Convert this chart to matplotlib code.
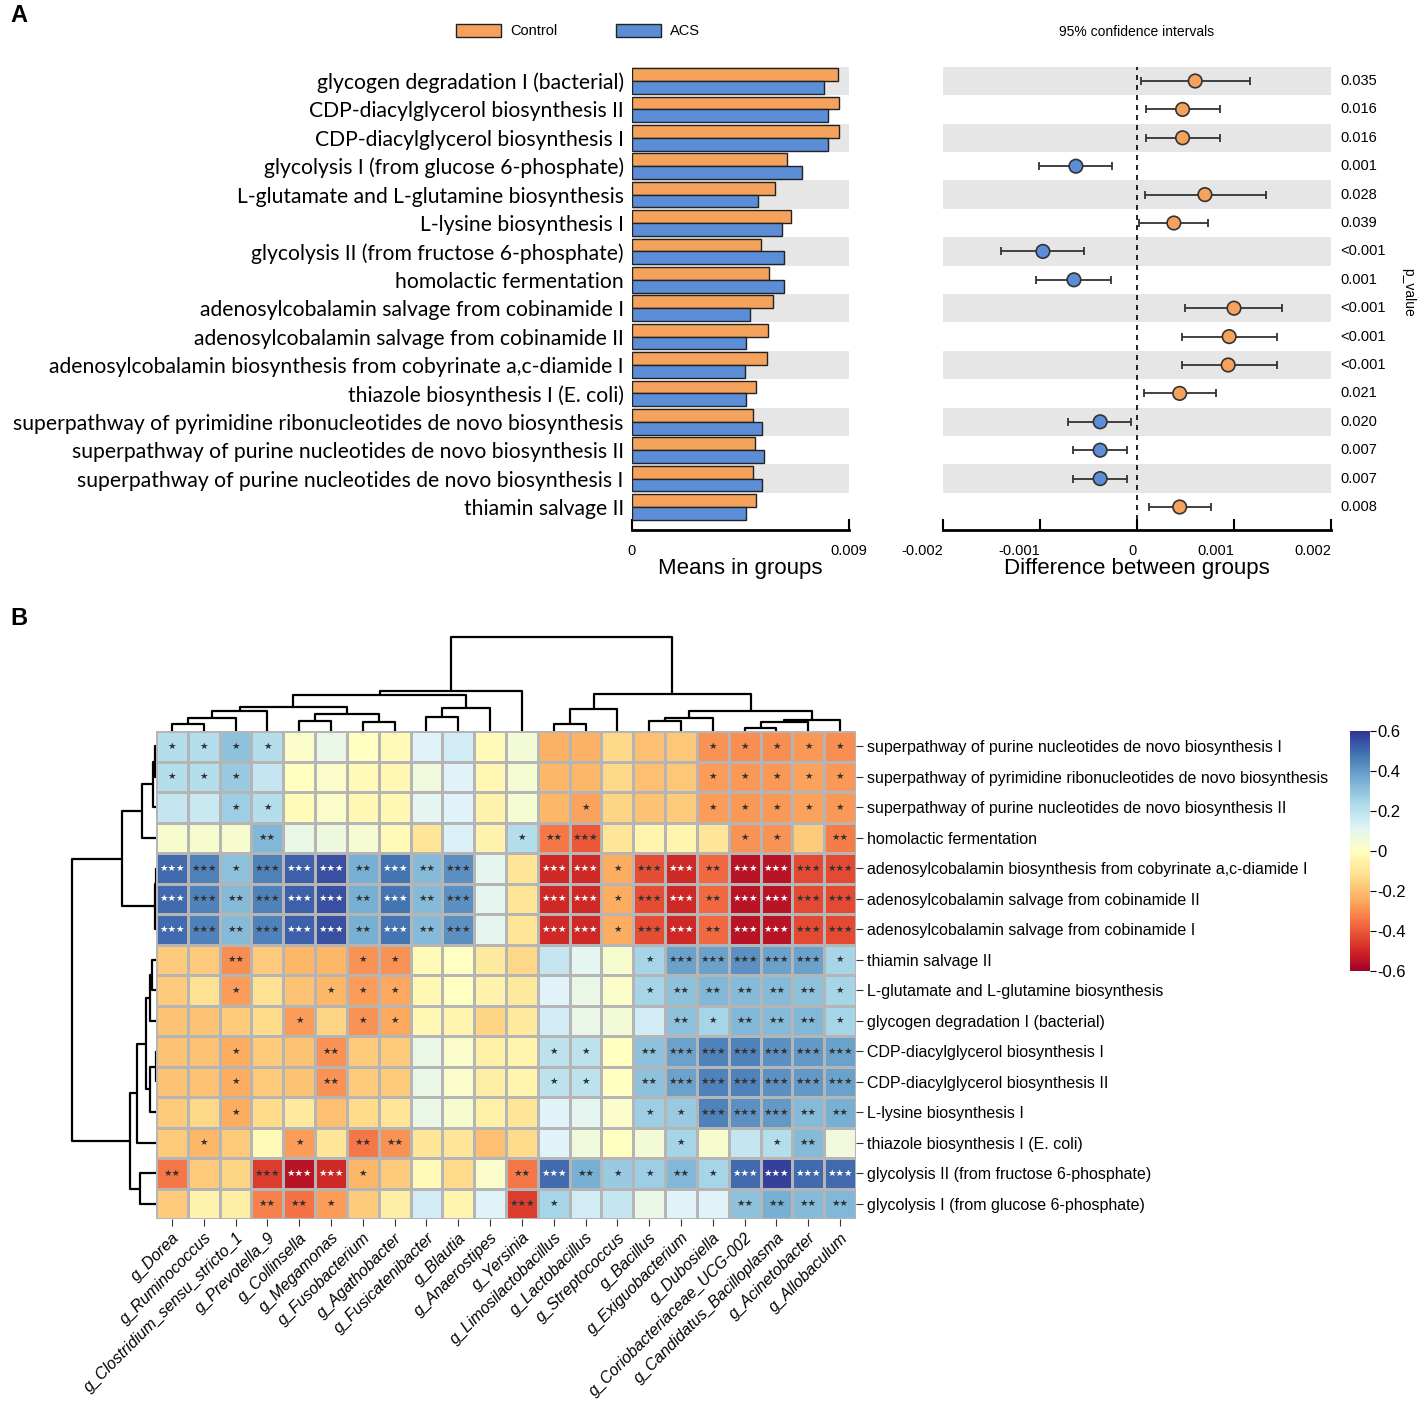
import numpy as np
import matplotlib
matplotlib.use('Agg')
import matplotlib.pyplot as plt
from matplotlib.patches import Patch
import matplotlib.transforms as mtransforms

plt.rcParams['font.family'] = ['Liberation Sans', 'DejaVu Sans']

# ---------------- panel A data ----------------
pathways = [
    'glycogen degradation I (bacterial)',
    'CDP-diacylglycerol biosynthesis II',
    'CDP-diacylglycerol biosynthesis I',
    'glycolysis I (from glucose 6-phosphate)',
    'L-glutamate and L-glutamine biosynthesis',
    'L-lysine biosynthesis I',
    'glycolysis II (from fructose 6-phosphate)',
    'homolactic fermentation',
    'adenosylcobalamin salvage from cobinamide I',
    'adenosylcobalamin salvage from cobinamide II',
    'adenosylcobalamin biosynthesis from cobyrinate a,c-diamide I',
    'thiazole biosynthesis I (E. coli)',
    'superpathway of pyrimidine ribonucleotides de novo biosynthesis',
    'superpathway of purine nucleotides de novo biosynthesis II',
    'superpathway of purine nucleotides de novo biosynthesis I',
    'thiamin salvage II',
]
control_mean = [0.00854, 0.00858, 0.00858, 0.00643, 0.00593, 0.00660, 0.00534, 0.00568,
                0.00585, 0.00566, 0.00561, 0.00515, 0.00503, 0.00511, 0.00500, 0.00515]
acs_mean = [0.00795, 0.00812, 0.00812, 0.00707, 0.00521, 0.00622, 0.00631, 0.00631,
            0.00488, 0.00471, 0.00469, 0.00473, 0.00540, 0.00549, 0.00538, 0.00473]
diff = [0.00060, 0.00047, 0.00047, -0.00063, 0.00070, 0.00038, -0.00097, -0.00065,
        0.00100, 0.00095, 0.00094, 0.00044, -0.00038, -0.00038, -0.00038, 0.00044]
ci_low = [0.00004, 0.00009, 0.00009, -0.00101, 0.00008, 0.00002, -0.00140, -0.00104,
          0.00050, 0.00046, 0.00046, 0.00007, -0.00071, -0.00066, -0.00066, 0.00012]
ci_high = [0.00116, 0.00086, 0.00086, -0.00026, 0.00133, 0.00073, -0.00055, -0.00027,
           0.00149, 0.00144, 0.00144, 0.00081, -0.00006, -0.00010, -0.00010, 0.00076]
p_labels = ['0.035', '0.016', '0.016', '0.001', '0.028', '0.039', '<0.001', '0.001',
            '<0.001', '<0.001', '<0.001', '0.021', '0.020', '0.007', '0.007', '0.008']

# ---------------- panel B data ----------------
heat_rows = [
    'superpathway of purine nucleotides de novo biosynthesis I',
    'superpathway of pyrimidine ribonucleotides de novo biosynthesis',
    'superpathway of purine nucleotides de novo biosynthesis II',
    'homolactic fermentation',
    'adenosylcobalamin biosynthesis from cobyrinate a,c-diamide I',
    'adenosylcobalamin salvage from cobinamide II',
    'adenosylcobalamin salvage from cobinamide I',
    'thiamin salvage II',
    'L-glutamate and L-glutamine biosynthesis',
    'glycogen degradation I (bacterial)',
    'CDP-diacylglycerol biosynthesis I',
    'CDP-diacylglycerol biosynthesis II',
    'L-lysine biosynthesis I',
    'thiazole biosynthesis I (E. coli)',
    'glycolysis II (from fructose 6-phosphate)',
    'glycolysis I (from glucose 6-phosphate)',
]
heat_cols = ['g_Dorea', 'g_Ruminococcus', 'g_Clostridium_sensu_stricto_1', 'g_Prevotella_9',
             'g_Collinsella', 'g_Megamonas', 'g_Fusobacterium', 'g_Agathobacter',
             'g_Fusicatenibacter', 'g_Blautia', 'g_Anaerostipes', 'g_Yersinia',
             'g_Limosilactobacillus', 'g_Lactobacillus', 'g_Streptococcus', 'g_Bacillus',
             'g_Exiguobacterium', 'g_Dubosiella', 'g_Coriobacteriaceae_UCG-002',
             'g_Candidatus_Bacilloplasma', 'g_Acinetobacter', 'g_Allobaculum']

corr = np.array([
    [0.22, 0.22, 0.30, 0.22, 0.02, 0.08, 0.00, -0.02, 0.12, 0.15, -0.02, 0.05, -0.23, -0.23, -0.14, -0.20, -0.18, -0.29, -0.30, -0.30, -0.28, -0.30],
    [0.22, 0.22, 0.28, 0.18, 0.00, 0.02, -0.02, -0.03, 0.06, 0.12, -0.03, 0.04, -0.22, -0.22, -0.14, -0.20, -0.18, -0.27, -0.28, -0.28, -0.26, -0.28],
    [0.18, 0.17, 0.27, 0.22, -0.01, 0.02, -0.03, -0.03, 0.10, 0.12, -0.05, 0.04, -0.22, -0.26, -0.15, -0.19, -0.17, -0.27, -0.28, -0.28, -0.26, -0.28],
    [0.03, 0.03, 0.03, 0.33, 0.08, 0.07, 0.04, -0.02, -0.10, 0.13, -0.05, 0.22, -0.34, -0.40, -0.10, -0.04, -0.04, -0.10, -0.29, -0.29, -0.17, -0.33],
    [0.50, 0.45, 0.30, 0.45, 0.52, 0.55, 0.35, 0.48, 0.32, 0.42, 0.10, -0.10, -0.50, -0.50, -0.24, -0.42, -0.50, -0.37, -0.55, -0.55, -0.43, -0.43],
    [0.50, 0.45, 0.32, 0.45, 0.52, 0.55, 0.35, 0.48, 0.32, 0.42, 0.10, -0.10, -0.50, -0.50, -0.24, -0.42, -0.50, -0.37, -0.55, -0.55, -0.43, -0.43],
    [0.50, 0.45, 0.32, 0.45, 0.52, 0.55, 0.35, 0.48, 0.32, 0.42, 0.10, -0.10, -0.50, -0.50, -0.24, -0.42, -0.50, -0.37, -0.55, -0.55, -0.43, -0.43],
    [-0.17, -0.17, -0.30, -0.17, -0.22, -0.22, -0.29, -0.29, -0.02, 0.00, -0.08, -0.14, 0.18, 0.10, 0.03, 0.25, 0.38, 0.38, 0.42, 0.38, 0.38, 0.25],
    [-0.17, -0.11, -0.27, -0.11, -0.19, -0.22, -0.27, -0.25, -0.03, 0.00, -0.05, -0.08, 0.12, 0.08, 0.02, 0.25, 0.30, 0.33, 0.32, 0.32, 0.30, 0.25],
    [-0.19, -0.19, -0.17, -0.13, -0.27, -0.15, -0.29, -0.25, -0.03, -0.04, -0.15, -0.08, 0.15, 0.08, 0.05, 0.15, 0.30, 0.25, 0.33, 0.32, 0.33, 0.25],
    [-0.19, -0.19, -0.24, -0.17, -0.19, -0.29, -0.17, -0.17, 0.08, 0.02, -0.06, -0.04, 0.20, 0.20, 0.00, 0.30, 0.38, 0.45, 0.45, 0.42, 0.40, 0.38],
    [-0.19, -0.19, -0.24, -0.17, -0.19, -0.29, -0.17, -0.17, 0.08, 0.02, -0.07, -0.04, 0.20, 0.20, 0.00, 0.30, 0.38, 0.45, 0.45, 0.42, 0.40, 0.38],
    [-0.17, -0.14, -0.24, -0.13, -0.08, -0.20, -0.13, -0.10, 0.08, 0.03, -0.06, -0.10, 0.12, 0.10, 0.02, 0.27, 0.28, 0.45, 0.42, 0.40, 0.32, 0.35],
    [-0.17, -0.22, -0.17, -0.02, -0.27, -0.10, -0.34, -0.29, -0.10, -0.10, -0.20, -0.13, 0.12, 0.06, 0.00, 0.05, 0.25, 0.03, 0.18, 0.22, 0.32, 0.06],
    [-0.34, -0.17, -0.15, -0.45, -0.55, -0.50, -0.22, -0.17, -0.02, -0.13, 0.02, -0.34, 0.50, 0.35, 0.28, 0.27, 0.33, 0.25, 0.50, 0.58, 0.50, 0.50],
    [-0.17, -0.05, -0.07, -0.32, -0.35, -0.27, -0.17, -0.07, 0.15, -0.04, 0.12, -0.45, 0.25, 0.15, 0.18, 0.08, 0.12, 0.12, 0.30, 0.35, 0.32, 0.33],
])

# number of significance stars per cell
star_level = np.array([
    [1, 1, 1, 1, 0, 0, 0, 0, 0, 0, 0, 0, 0, 0, 0, 0, 0, 1, 1, 1, 1, 1],
    [1, 1, 1, 0, 0, 0, 0, 0, 0, 0, 0, 0, 0, 0, 0, 0, 0, 1, 1, 1, 1, 1],
    [0, 0, 1, 1, 0, 0, 0, 0, 0, 0, 0, 0, 0, 1, 0, 0, 0, 1, 1, 1, 1, 1],
    [0, 0, 0, 2, 0, 0, 0, 0, 0, 0, 0, 1, 2, 3, 0, 0, 0, 0, 1, 1, 0, 2],
    [3, 3, 1, 3, 3, 3, 2, 3, 2, 3, 0, 0, 3, 3, 1, 3, 3, 2, 3, 3, 3, 3],
    [3, 3, 2, 3, 3, 3, 2, 3, 2, 3, 0, 0, 3, 3, 1, 3, 3, 2, 3, 3, 3, 3],
    [3, 3, 2, 3, 3, 3, 2, 3, 2, 3, 0, 0, 3, 3, 1, 3, 3, 2, 3, 3, 3, 3],
    [0, 0, 2, 0, 0, 0, 1, 1, 0, 0, 0, 0, 0, 0, 0, 1, 3, 3, 3, 3, 3, 1],
    [0, 0, 1, 0, 0, 1, 1, 1, 0, 0, 0, 0, 0, 0, 0, 1, 2, 2, 2, 2, 2, 1],
    [0, 0, 0, 0, 1, 0, 1, 1, 0, 0, 0, 0, 0, 0, 0, 0, 2, 1, 2, 2, 2, 1],
    [0, 0, 1, 0, 0, 2, 0, 0, 0, 0, 0, 0, 1, 1, 0, 2, 3, 3, 3, 3, 3, 3],
    [0, 0, 1, 0, 0, 2, 0, 0, 0, 0, 0, 0, 1, 1, 0, 2, 3, 3, 3, 3, 3, 3],
    [0, 0, 1, 0, 0, 0, 0, 0, 0, 0, 0, 0, 0, 0, 0, 1, 1, 3, 3, 3, 2, 2],
    [0, 1, 0, 0, 1, 0, 2, 2, 0, 0, 0, 0, 0, 0, 0, 0, 1, 0, 0, 1, 2, 0],
    [2, 0, 0, 3, 3, 3, 1, 0, 0, 0, 0, 2, 3, 2, 1, 1, 2, 1, 3, 3, 3, 3],
    [0, 0, 0, 2, 2, 1, 0, 0, 0, 0, 0, 3, 1, 0, 0, 0, 0, 0, 2, 2, 2, 2],
])

# dendrograms as (left, right, merge height); ints are leaf indices
col_tree = (
    (((((((0, 1, 7), 2, 12.7), 3, 20), ((4, 5, 10.3), (6, 7, 9.3), 16.7), 24.3),
       ((8, 9, 14.3), 10, 23), 36), 11, 40)),
    (((12, 13, 7), 14, 22.3),
     (((15, 16, 10.3), 17, 13.3), (((18, 19, 3), 20, 9), 21, 11), 20.3), 36.7),
    93.7)
row_tree = (
    ((((0, 1, 1), 2, 2.7), 3, 13.7), ((4, 5, 0.5), 6, 1.0), 33.7),
    (((((7, 8, 3.7), 9, 6), ((10, 11, 0.5), 12, 6), 10), 13, 18.7), (14, 15, 16), 26),
    84)

ORANGE = '#F5A25C'
BLUE = '#5B8ED6'
STRIPE = '#E6E6E6'

W, H = 1427, 1405
fig = plt.figure(figsize=(W / 100, H / 100), dpi=100)


def px_axes(l, t, r, b):
    return fig.add_axes([l / W, 1 - b / H, (r - l) / W, (b - t) / H])


n = len(pathways)
y = np.arange(n)
row_h = 28.4
top_px, bot_px = 81 - row_h / 2, 530
ylim = ((bot_px - 81) / row_h, -0.5)

# ---- means in groups ----
ax_bar = px_axes(632, top_px, 849, bot_px)
for i in range(0, n, 2):
    ax_bar.axhspan(i - 0.5, i + 0.5, color=STRIPE, lw=0, zorder=0)
ax_bar.barh(y - 0.225, control_mean, height=0.45, color=ORANGE, edgecolor='#222222', lw=1, zorder=2)
ax_bar.barh(y + 0.225, acs_mean, height=0.45, color=BLUE, edgecolor='#222222', lw=1, zorder=2)
ax_bar.set_xlim(0, 0.009)
ax_bar.set_ylim(*ylim)
ax_bar.set_yticks(y)
ax_bar.set_yticklabels(pathways, family=['Lato', 'DejaVu Sans'], fontsize=15.2)
ax_bar.tick_params(axis='y', length=0, pad=6)
ax_bar.set_xticks([0, 0.009])
ax_bar.set_xticklabels(['0', '0.009'], fontsize=10.5)
ax_bar.tick_params(axis='x', direction='in', length=8, width=1.5, pad=10)
for s in ['top', 'left', 'right']:
    ax_bar.spines[s].set_visible(False)
ax_bar.spines['bottom'].set_linewidth(2)
ax_bar.set_xlabel('Means in groups', fontsize=16, labelpad=0)

# ---- confidence intervals ----
ax_ci = px_axes(943, top_px, 1331, bot_px)
for i in range(0, n, 2):
    ax_ci.axhspan(i - 0.5, i + 0.5, color=STRIPE, lw=0, zorder=0)
diff_a = np.array(diff)
xerr = [diff_a - np.array(ci_low), np.array(ci_high) - diff_a]
ax_ci.errorbar(diff_a, y, xerr=xerr, fmt='none', ecolor='#333333', elinewidth=1.3,
               capsize=3, capthick=1.3, zorder=2)
pt_colors = [ORANGE if d > 0 else BLUE for d in diff]
ax_ci.scatter(diff_a, y, s=95, c=pt_colors, edgecolors='#333333', linewidths=1.2, zorder=3)
ax_ci.axvline(0, color='black', ls=(0, (3, 3)), lw=1.2, zorder=1)
ax_ci.set_xlim(-0.002, 0.002)
ax_ci.set_ylim(*ylim)
ax_ci.set_yticks([])
ax_ci.set_xticks([-0.002, -0.001, 0, 0.001, 0.002])
ax_ci.set_xticklabels(['-0.002', '-0.001', '0', '0.001', '0.002'], fontsize=10.5, ha='right')
ax_ci.tick_params(axis='x', direction='in', length=8, width=1.5, pad=10)
for s in ['top', 'left', 'right']:
    ax_ci.spines[s].set_visible(False)
ax_ci.spines['bottom'].set_linewidth(2)
ax_ci.set_xlabel('Difference between groups', fontsize=16, labelpad=0)
trans = mtransforms.blended_transform_factory(ax_ci.transAxes, ax_ci.transData)
for i, p in enumerate(p_labels):
    ax_ci.text(1.023, i, p, transform=trans, va='center', ha='left', fontsize=10.5)

fig.text(1137 / W, 1 - 32 / H, '95% confidence intervals', ha='center', va='center', fontsize=10)
fig.text(1408 / W, 1 - 292 / H, 'p_value', ha='center', va='center', rotation=-90, fontsize=10)
fig.text(10 / W, 1 - 15 / H, 'A', ha='left', va='center', fontsize=17, fontweight='bold')
fig.text(10 / W, 1 - 618 / H, 'B', ha='left', va='center', fontsize=17, fontweight='bold')

handles = [Patch(facecolor=ORANGE, edgecolor='#222222', label='Control'),
           Patch(facecolor=BLUE, edgecolor='#222222', label='ACS')]
fig.legend(handles=handles, ncol=2, loc='center', bbox_to_anchor=(578 / W, 1 - 31 / H),
           frameon=False, fontsize=10.5, handlelength=3.1, handleheight=1.0,
           columnspacing=4.0, handletextpad=0.6)

# ---- heatmap ----
nr, nc = corr.shape
ax_hm = px_axes(156, 731, 856, 1219)
cmap = plt.get_cmap('RdYlBu')
mesh = ax_hm.pcolormesh(np.arange(nc + 1), np.arange(nr + 1), corr, cmap=cmap,
                        vmin=-0.6, vmax=0.6, edgecolors='#B5B5B5', linewidth=1)
ax_hm.set_xlim(0, nc)
ax_hm.set_ylim(nr, 0)
for s in ax_hm.spines.values():
    s.set_visible(False)
for r in range(nr):
    for c in range(nc):
        k = star_level[r, c]
        if k:
            col = 'white' if abs(corr[r, c]) >= 0.47 else '#333333'
            ax_hm.text(c + 0.5, r + 0.5, '\u2605' * k, ha='center', va='center',
                       fontsize=6.8, color=col, family='DejaVu Sans')
ax_hm.yaxis.tick_right()
ax_hm.set_yticks(np.arange(nr) + 0.5)
ax_hm.set_yticklabels(heat_rows, fontsize=11.5)
ax_hm.set_xticks(np.arange(nc) + 0.5)
ax_hm.set_xticklabels(heat_cols, fontsize=11.5, style='italic', rotation=45,
                      ha='right', rotation_mode='anchor')
ax_hm.tick_params(axis='both', length=5, width=0.8, color='#333333', pad=3)

# colorbar
cax = px_axes(1350, 731, 1370, 971)
cb = fig.colorbar(mesh, cax=cax)
cb.outline.set_visible(False)
cb.set_ticks([0.6, 0.4, 0.2, 0, -0.2, -0.4, -0.6])
cb.set_ticklabels(['0.6', '0.4', '0.2', '0', '-0.2', '-0.4', '-0.6'])
cax.tick_params(length=4, width=0.8, labelsize=12, pad=1)


# ---- dendrograms ----
def draw_tree(ax, node, horizontal):
    # returns (leaf position, height)
    if isinstance(node, int):
        return node + 0.5, 0.0
    left, right, h = node
    pl, hl = draw_tree(ax, left, horizontal)
    pr, hr = draw_tree(ax, right, horizontal)
    xs = [pl, pl, pr, pr]
    hs = [hl, h, h, hr]
    if horizontal:
        ax.plot(hs, xs, color='black', lw=1.6, solid_capstyle='butt')
    else:
        ax.plot(xs, hs, color='black', lw=1.6, solid_capstyle='butt')
    return (pl + pr) / 2, h


ax_cd = px_axes(156, 631, 856, 731)
draw_tree(ax_cd, col_tree, horizontal=False)
ax_cd.set_xlim(0, nc)
ax_cd.set_ylim(0, 100)
ax_cd.axis('off')

ax_rd = px_axes(56, 731, 156, 1219)
draw_tree(ax_rd, row_tree, horizontal=True)
ax_rd.set_xlim(100, 0)
ax_rd.set_ylim(nr, 0)
ax_rd.axis('off')

fig.savefig('out.png', dpi=100)
